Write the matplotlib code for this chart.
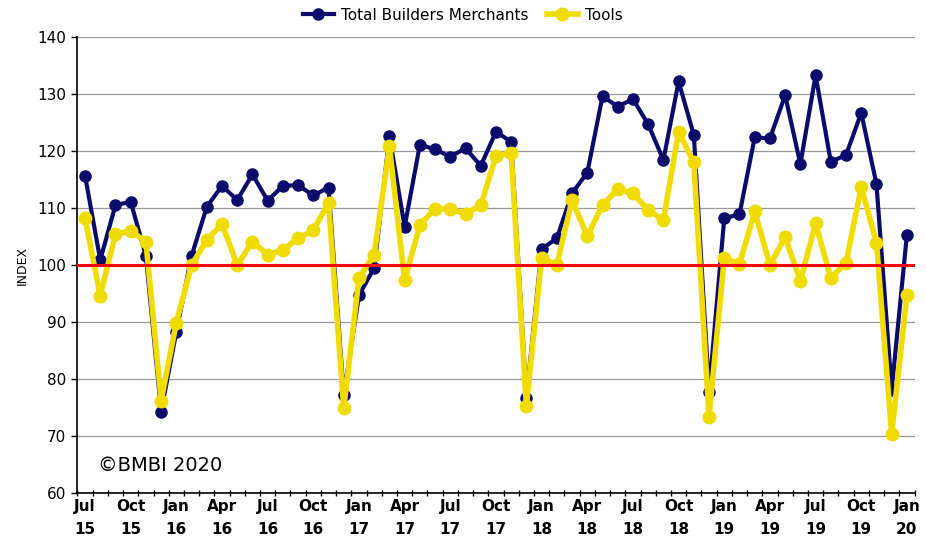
import numpy as np
import matplotlib
matplotlib.use("Agg")
import matplotlib.pyplot as plt

NAVY = "#0B0B6B"
YELLOW = "#F0DC00"
RED = "#FF0000"

# ── data (Jul 2015 .. Jan 2020, monthly) ──────────────────────────────────
months = ["Jul", "Aug", "Sep", "Oct", "Nov", "Dec", "Jan", "Feb", "Mar", "Apr", "May", "Jun"]
start_year = 15

total_merchants = [
    115.7, 100.9, 110.5, 111.1, 101.6, 74.3, 88.3, 101.6, 110.2, 113.9, 111.4, 115.9,
    111.3, 113.9, 114.0, 112.2, 113.6, 77.2, 94.7, 99.5, 122.6, 106.7, 121.1, 120.3,
    119.0, 120.5, 117.4, 123.4, 121.6, 76.7, 102.8, 104.7, 112.6, 116.2, 129.6, 127.8,
    129.1, 124.7, 118.4, 132.2, 122.8, 77.8, 108.2, 108.9, 122.4, 122.2, 129.8, 117.7,
    133.3, 118.1, 119.3, 126.7, 114.2, 78.1, 105.3,
]
tools = [
    108.2, 94.6, 105.4, 106.0, 104.1, 76.2, 89.9, 100.0, 104.4, 107.2, 100.0, 104.1,
    101.8, 102.6, 104.7, 106.1, 110.9, 74.9, 97.7, 101.8, 120.8, 97.3, 107.0, 109.9,
    109.8, 109.0, 110.5, 119.1, 119.6, 75.3, 101.3, 100.0, 111.4, 105.1, 110.5, 113.3,
    112.6, 109.6, 107.9, 123.4, 118.0, 73.3, 101.2, 100.1, 109.4, 100.0, 104.9, 97.2,
    107.3, 97.7, 100.4, 113.7, 103.9, 70.3, 94.7,
]


def month_label(i):
    m = months[i % 12]
    yr = start_year + (i + 6) // 12
    return f"{m}\n{yr}"


def main():
    n = len(tools)
    x = np.arange(n)

    fig = plt.figure(figsize=(9.26, 5.39), dpi=100)
    ax = fig.add_axes([0.0836, 0.0853, 0.904, 0.846])

    for yv in range(70, 141, 10):
        ax.axhline(yv, color="#9A9A9A", lw=0.9, zorder=1)

    ax.plot(x, total_merchants, color=NAVY, lw=3, marker="o", ms=8,
            label="Total Builders Merchants", zorder=3)
    ax.plot(x, tools, color=YELLOW, lw=4, marker="o", ms=9,
            label="Tools", zorder=4)
    ax.axhline(100, color=RED, lw=2.2, zorder=5)

    ax.set_xlim(-0.5, n - 0.5)
    ax.set_ylim(60, 140)
    ax.set_yticks(range(60, 141, 10))
    ax.tick_params(axis="y", labelsize=11, length=4, width=1, direction="out", pad=4)

    major = list(range(0, n, 3))
    ax.set_xticks(major)
    ax.set_xticklabels([month_label(i) for i in major], fontweight="bold", fontsize=11,
                       family=["Liberation Sans Narrow", "DejaVu Sans Condensed", "DejaVu Sans"],
                       linespacing=1.7)
    ax.set_xticks(np.arange(-0.5, n, 1), minor=True)
    ax.tick_params(axis="x", which="major", length=0, pad=4)
    ax.tick_params(axis="x", which="minor", length=5, width=1, direction="inout")

    ax.set_ylabel("INDEX", fontsize=9, labelpad=6)
    ax.spines[["top", "right"]].set_visible(False)
    ax.spines["left"].set_linewidth(1.2)
    ax.spines["bottom"].set_linewidth(1.2)

    ax.text(0.85, 64.8, "©BMBI 2020", fontsize=14, ha="left", va="center", zorder=6)

    fig.legend(*ax.get_legend_handles_labels(), loc="center", bbox_to_anchor=(0.5, 0.972),
               ncol=2, frameon=False, fontsize=11, handlelength=2.0, columnspacing=1.2,
               handletextpad=0.5, borderaxespad=0.0)

    fig.savefig("out.png", dpi=100)
    plt.close(fig)


if __name__ == "__main__":
    main()
